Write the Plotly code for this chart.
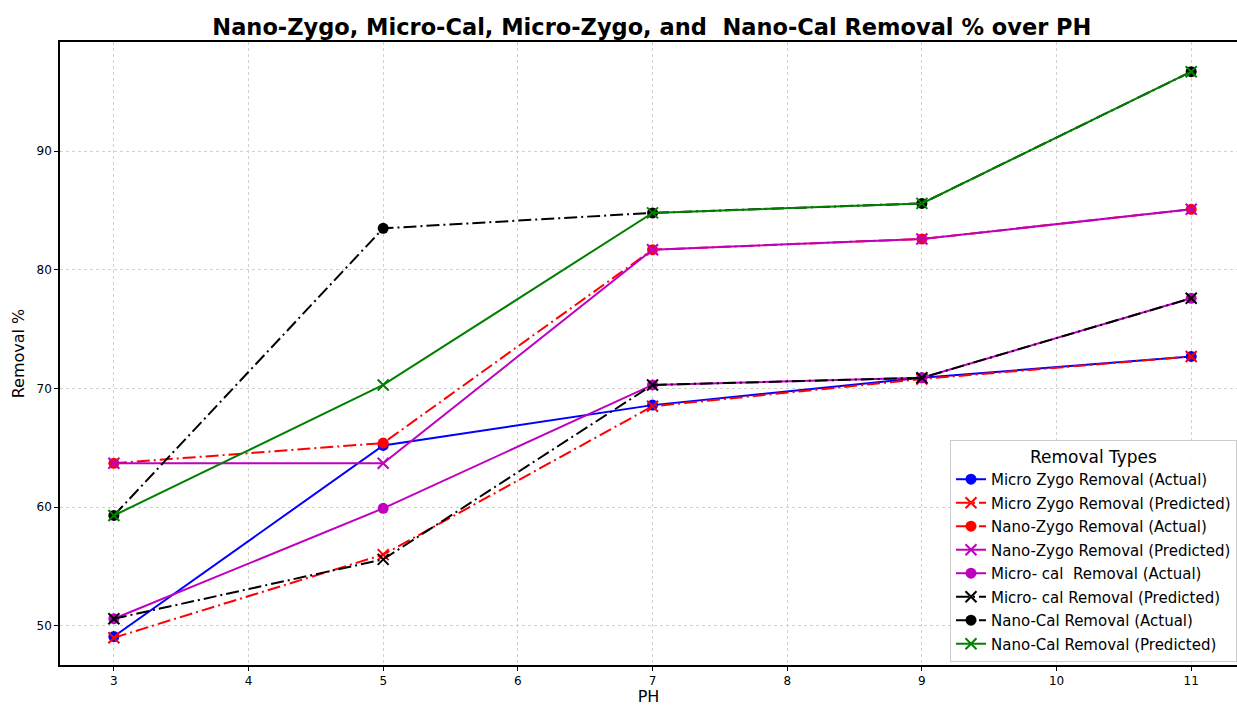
import plotly.graph_objects as go

ph = [3, 5, 7, 9, 11]

micro_zygo_actual = [49.1, 65.2, 68.6, 70.9, 72.7]
micro_zygo_pred = [49.0, 56.0, 68.5, 70.8, 72.7]
nano_zygo_actual = [63.7, 65.4, 81.7, 82.6, 85.1]
nano_zygo_pred = [63.7, 63.7, 81.7, 82.6, 85.1]
micro_cal_actual = [50.6, 59.9, 70.3, 70.9, 77.6]
micro_cal_pred = [50.6, 55.6, 70.3, 70.9, 77.6]
nano_cal_actual = [59.3, 83.5, 84.8, 85.6, 96.7]
nano_cal_pred = [59.3, 70.3, 84.8, 85.6, 96.7]

x_ticks = [3, 4, 5, 6, 7, 8, 9, 10, 11]
y_ticks = [50, 60, 70, 80, 90]

DASHDOT = "13px,4px,2px,4px"

series = [
    ("Micro Zygo Removal (Actual)", micro_zygo_actual, "#0000ff", "solid", "circle"),
    ("Micro Zygo Removal (Predicted)", micro_zygo_pred, "#ff0000", DASHDOT, "x"),
    ("Nano-Zygo Removal (Actual)", nano_zygo_actual, "#ff0000", DASHDOT, "circle"),
    ("Nano-Zygo Removal (Predicted)", nano_zygo_pred, "#bf00bf", "solid", "x"),
    ("Micro- cal  Removal (Actual)", micro_cal_actual, "#bf00bf", "solid", "circle"),
    ("Micro- cal Removal (Predicted)", micro_cal_pred, "#000000", DASHDOT, "x"),
    ("Nano-Cal Removal (Actual)", nano_cal_actual, "#000000", DASHDOT, "circle"),
    ("Nano-Cal Removal (Predicted)", nano_cal_pred, "#008000", "solid", "x"),
]

fig = go.Figure()
for i, (name, vals, color, dash, sym) in enumerate(series):
    if sym == "circle":
        marker = dict(symbol="circle", size=11, color=color, line=dict(width=0))
    else:
        marker = dict(symbol="x-thin", size=11, color=color, line=dict(width=2, color=color))
    fig.add_trace(go.Scatter(
        x=ph, y=vals, name=name, mode="lines+markers",
        line=dict(color=color, width=2, dash=dash),
        marker=marker, legendgroup=f"g{i}",
    ))

axis_font = dict(family="DejaVu Sans", size=12, color="#000000")

fig.update_layout(
    width=1237, height=706,
    margin=dict(l=60, r=0, t=42, b=41),
    paper_bgcolor="white", plot_bgcolor="white",
    font=dict(family="DejaVu Sans", color="#000000"),
    title=dict(
        text="<b>Nano-Zygo, Micro-Cal, Micro-Zygo, and  Nano-Cal Removal % over PH</b>",
        x=0.527, xanchor="center", y=0.962, yanchor="middle",
        font=dict(family="DejaVu Sans", size=22.5, color="#000000"),
    ),
    xaxis=dict(
        range=[2.6, 11.34], tickvals=x_ticks, ticktext=[str(v) for v in x_ticks],
        showgrid=True, gridcolor="#d0d0d0", griddash="dot", gridwidth=1,
        showline=True, linecolor="#000000", linewidth=1.5, mirror=True,
        ticks="outside", ticklen=4, tickcolor="#000000", tickwidth=1,
        tickfont=axis_font, zeroline=False,
        title=dict(text="PH", font=dict(family="DejaVu Sans", size=16), standoff=4),
    ),
    yaxis=dict(
        range=[46.7, 99.2], tickvals=y_ticks, ticktext=[str(v) for v in y_ticks],
        showgrid=True, gridcolor="#d0d0d0", griddash="dot", gridwidth=1,
        showline=True, linecolor="#000000", linewidth=1.5, mirror=False,
        ticks="outside", ticklen=4, tickcolor="#000000", tickwidth=1,
        tickfont=axis_font, zeroline=False,
        title=dict(text="Removal %", font=dict(family="DejaVu Sans", size=16), standoff=8),
    ),
    legend=dict(
        x=1.0, xanchor="right", y=0.005, yanchor="bottom",
        bgcolor="rgba(255,255,255,0.9)", bordercolor="#cccccc", borderwidth=1,
        font=dict(family="DejaVu Sans", size=15, color="#000000"),
        title=dict(text="Removal Types", side="top center",
                   font=dict(family="DejaVu Sans", size=17, color="#000000")),
        tracegroupgap=1, traceorder="grouped", itemwidth=30,
    ),
    showlegend=True,
)

fig.write_html("out.html")
